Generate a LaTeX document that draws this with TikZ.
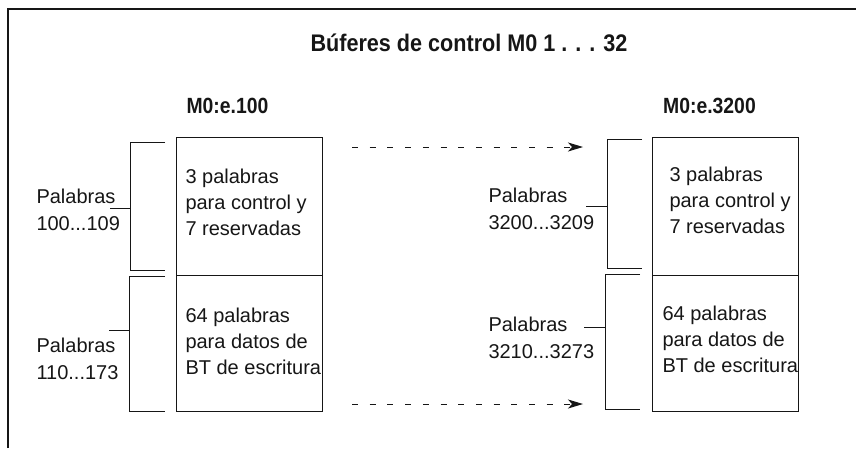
\documentclass[tikz,border=0pt]{standalone}
\usepackage{fontspec}
\setmainfont{Liberation Sans}
\newfontfamily\titlefont[FakeStretch=0.9]{Liberation Sans}
\newfontfamily\headfont[FakeStretch=0.88]{Liberation Sans}
\usetikzlibrary{arrows.meta}
\definecolor{ink}{HTML}{161616}
\begin{document}
\begin{tikzpicture}[x=1pt,y=-1pt,
  line width=1pt, draw=ink, text=ink,
  memcell/.style={draw, line width=1pt},
  celltext/.style={anchor=west, align=left, inner sep=0pt, font=\fontsize{20}{26}\selectfont},
  rangelbl/.style={anchor=west, align=left, inner sep=0pt, font=\fontsize{20}{27}\selectfont},
  bracketline/.style={line width=1pt},
  headlbl/.style={inner sep=0pt, font=\headfont\bfseries\fontsize{22}{26}\selectfont},
  flowarrow/.style={line width=1pt, dash pattern=on 6pt off 11.7pt, -{Stealth[length=15pt,width=9pt,inset=4pt]}}]
\useasboundingbox (0,0) rectangle (856,448);
% frame (only top and left edges visible)
\draw[line width=1.6pt] (8,448) -- (8,9) -- (856,9);
% title and headings
\node[inner sep=0pt, font=\titlefont\bfseries\fontsize{24}{28}\selectfont] (title) at (469,43) {Búferes de control M0 1 . . . 32};
\node[headlbl] (headL) at (227.5,106) {M0:e.100};
\node[headlbl] (headR) at (709.5,106) {M0:e.3200};
% left memory block
\node[memcell, minimum width=146pt, minimum height=138pt, inner sep=0pt] (boxLa) at (249,206) {};
\node[memcell, minimum width=146pt, minimum height=136pt, inner sep=0pt] (boxLb) at (249,343) {};
\node[celltext] (txtLa) at (185,202) {3 palabras\\para control y\\7 reservadas};
\node[celltext] (txtLb) at (185,341) {64 palabras\\para datos de\\BT de escritura};
% right memory block
\node[memcell, minimum width=146pt, minimum height=138pt, inner sep=0pt] (boxRa) at (725,206) {};
\node[memcell, minimum width=146pt, minimum height=136pt, inner sep=0pt] (boxRb) at (725,343) {};
\node[celltext] (txtRa) at (669,200) {3 palabras\\para control y\\7 reservadas};
\node[celltext] (txtRb) at (662,339) {64 palabras\\para datos de\\BT de escritura};
% range labels
\node[rangelbl] (lblLa) at (36,210) {Palabras\\100...109};
\node[rangelbl] (lblLb) at (36,359) {Palabras\\110...173};
\node[rangelbl] (lblRa) at (488,208.5) {Palabras\\3200...3209};
\node[rangelbl] (lblRb) at (488,338) {Palabras\\3210...3273};
% brackets left
\draw[bracketline] (165,142) -- (130,142) -- (130,270) -- (165,270);
\draw[bracketline] (110,208) -- (130,208);
\draw[bracketline] (165,276) -- (129,276) -- (129,411) -- (165,411);
\draw[bracketline] (109,330) -- (129,330);
% brackets right
\draw[bracketline] (642,139) -- (607,139) -- (607,268) -- (642,268);
\draw[bracketline] (586,206) -- (607,206);
\draw[bracketline] (640,274) -- (605,274) -- (605,409) -- (640,409);
\draw[bracketline] (584,327) -- (605,327);
% dashed arrows
\coordinate (aTs) at (352,147);
\coordinate (aTe) at (583,147);
\coordinate (aBs) at (352,404);
\coordinate (aBe) at (583,404);
\draw[flowarrow] (aTs) -- (aTe);
\draw[flowarrow] (aBs) -- (aBe);
\end{tikzpicture}
\end{document}
